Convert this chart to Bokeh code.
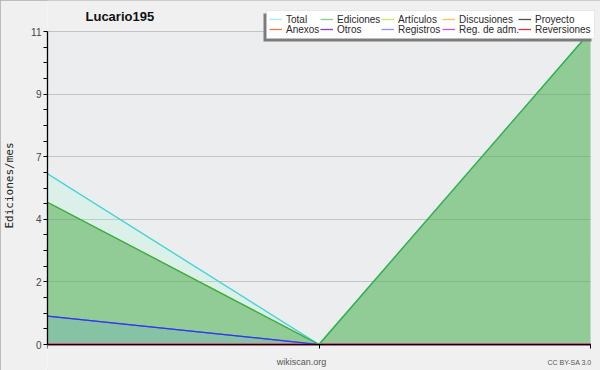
from bokeh.plotting import figure
from bokeh.models import (FixedTicker, NumeralTickFormatter, CustomJSTickFormatter, Legend, LegendItem,
                          Label, BoxAnnotation, ColumnDataSource, Range1d, InlineStyleSheet)
from bokeh.embed import file_html
from bokeh.resources import INLINE

# ---- data ----
periods = [0, 1, 2]
total = [6, 0, 11]
ediciones = [5, 0, 11]
articulos = [0, 0, 0]
discusiones = [0, 0, 0]
proyecto = [0, 0, 0]
anexos = [0, 0, 0]
otros = [0, 0, 0]
registros = [1, 0, 0]
reg_adm = [0, 0, 0]
reversiones = [0, 0, 0]
y_major_ticks = [0, 2.2, 4.4, 6.6, 8.8, 11]
y_max = 11

series_names = ["Total", "Ediciones", "Artículos", "Discusiones", "Proyecto",
                "Anexos", "Otros", "Registros", "Reg. de adm.", "Reversiones"]
series_values = [total, ediciones, articulos, discusiones, proyecto,
                 anexos, otros, registros, reg_adm, reversiones]
line_colors = ["#40d4d4", "#3cae3c", "#c8ec60", "#f4c858", "#505050",
               "#f07840", "#8040c8", "#3434f0", "#d050e0", "#e03030"]
legend_alpha = [0.45, 0.6, 1, 1, 1, 1, 1, 0.55, 1, 1]

src = ColumnDataSource(dict(x=periods, zero=[0] * len(periods), total=total,
                            ediciones=ediciones, registros=registros))

# frame covers the canvas right of the y axis; data area occupies 46..590 x 31..344
px_per_y = 313 / y_max
px_per_x = 544 / (len(periods) - 1)
p = figure(width=600, height=370, output_backend="svg", toolbar_location=None,
           x_range=Range1d(0, (len(periods) - 1) + 10 / px_per_x),
           y_range=Range1d(-26 / px_per_y, y_max + 31 / px_per_y),
           min_border_left=46, min_border_right=0, min_border_top=0, min_border_bottom=0)
p.background_fill_color = "#f0f0f0"
p.border_fill_color = "#f0f0f0"
p.outline_line_color = None
p.stylesheets = [InlineStyleSheet(css=":host { outline: 1px solid #ababab; outline-offset: -1px; }")]

# plot-area background
p.add_layout(BoxAnnotation(left=0, right=len(periods) - 1, bottom=0, top=y_max,
                           fill_color="#ecedef", fill_alpha=1.0, line_color=None, level="image"))

# areas
p.varea(x="x", y1="zero", y2="total", source=src, fill_color="#98ffd2", fill_alpha=0.2)
p.varea(x="x", y1="zero", y2="ediciones", source=src, fill_color="#48a542", fill_alpha=0.5)
p.varea(x="x", y1="zero", y2="registros", source=src, fill_color="#56a3e1", fill_alpha=0.2)

# legend swatch renderers (drawn underneath the identical visible lines)
swatches = []
for vals, col, a in zip(series_values, line_colors, legend_alpha):
    swatches.append(p.line(periods, vals, line_color=col, line_width=1.3, line_alpha=a))
# visible lines
for vals, col in zip(series_values, line_colors):
    p.line(periods, vals, line_color=col, line_width=1.2)

# legend box + shadow (frame-relative screen px; frame origin is canvas (46, 370))
p.add_layout(BoxAnnotation(left=216, right=544, top=357, bottom=329,
                           left_units="screen", right_units="screen", top_units="screen",
                           bottom_units="screen", fill_color="#7c7c7c", fill_alpha=1.0,
                           line_color=None))
p.add_layout(BoxAnnotation(left=219, right=547, top=360, bottom=332,
                           left_units="screen", right_units="screen", top_units="screen",
                           bottom_units="screen", fill_color="white", fill_alpha=1.0,
                           line_color="#c4c4c4", line_width=1))

col_x = [222, 273, 334, 395, 471]   # glyph start, frame px
row_y = [344, 334]                  # legend bottom, frame px
for i, (name, r) in enumerate(zip(series_names, swatches)):
    lg = Legend(items=[LegendItem(label=name, renderers=[r])],
                location=(col_x[i % 5], row_y[i // 5]),
                label_text_font="Liberation Sans", label_text_font_size="10px",
                label_text_color="#2a2a2a", label_height=14, glyph_height=14, glyph_width=13,
                label_standoff=4, spacing=0, padding=0, margin=0,
                border_line_color=None, background_fill_alpha=0.0)
    p.add_layout(lg)

# axes
minor = []
for i in range(len(y_major_ticks) - 1):
    a, b = y_major_ticks[i], y_major_ticks[i + 1]
    for k in range(1, 4):
        minor.append(a + (b - a) * k / 4)
p.yaxis.ticker = FixedTicker(ticks=y_major_ticks, minor_ticks=minor)
p.yaxis.bounds = (0, y_max)
p.yaxis.formatter = NumeralTickFormatter(format="0")
p.yaxis.axis_label = "Ediciones/mes"
p.yaxis.axis_label_text_font = "DejaVu Sans Mono"
p.yaxis.axis_label_text_font_style = "normal"
p.yaxis.axis_label_text_font_size = "11px"
p.yaxis.axis_label_text_color = "#222222"
p.yaxis.axis_label_standoff = 12
p.yaxis.major_label_text_font = "Liberation Sans"
p.yaxis.major_label_text_font_size = "10px"
p.yaxis.major_label_text_color = "#444444"
p.yaxis.major_label_standoff = 2
p.yaxis.major_tick_in = 0
p.yaxis.major_tick_out = 4
p.yaxis.minor_tick_in = 0
p.yaxis.minor_tick_out = 4
p.yaxis.axis_line_color = "black"
p.yaxis.axis_line_width = 1.3
p.yaxis.major_tick_line_color = "black"
p.yaxis.minor_tick_line_color = "black"

p.xaxis.fixed_location = 0
p.xaxis.bounds = (0, len(periods) - 1)
p.xaxis.ticker = FixedTicker(ticks=periods, minor_ticks=[])
p.xaxis.formatter = CustomJSTickFormatter(code="return ''")
p.xaxis.major_tick_in = 0
p.xaxis.major_tick_out = 4
p.xaxis.axis_line_color = "black"
p.xaxis.major_tick_line_color = "black"
p.xaxis.major_label_text_font_size = "1px"

p.xgrid.visible = False
p.ygrid.ticker = FixedTicker(ticks=y_major_ticks)
p.ygrid.bounds = (0, y_max)
p.ygrid.cross_bounds = (0, len(periods) - 1)
p.ygrid.grid_line_color = "#c4c4c4"

# texts
p.add_layout(Label(x=38, y=354, x_units="screen", y_units="screen", text="Lucario195",
                   text_font="Liberation Sans", text_font_style="bold", text_font_size="13px",
                   text_color="#111111", text_baseline="middle", text_align="left"))
p.add_layout(Label(x=254, y=9, x_units="screen", y_units="screen", text="wikiscan.org",
                   text_font="Liberation Sans", text_font_size="9px",
                   text_color="#555555", text_baseline="middle", text_align="center"))
p.add_layout(Label(x=544, y=8, x_units="screen", y_units="screen", text="CC BY-SA 3.0",
                   text_font="Liberation Sans", text_font_size="7px",
                   text_color="#555555", text_baseline="middle", text_align="right"))

open("out.html", "w").write(file_html(p, INLINE))
